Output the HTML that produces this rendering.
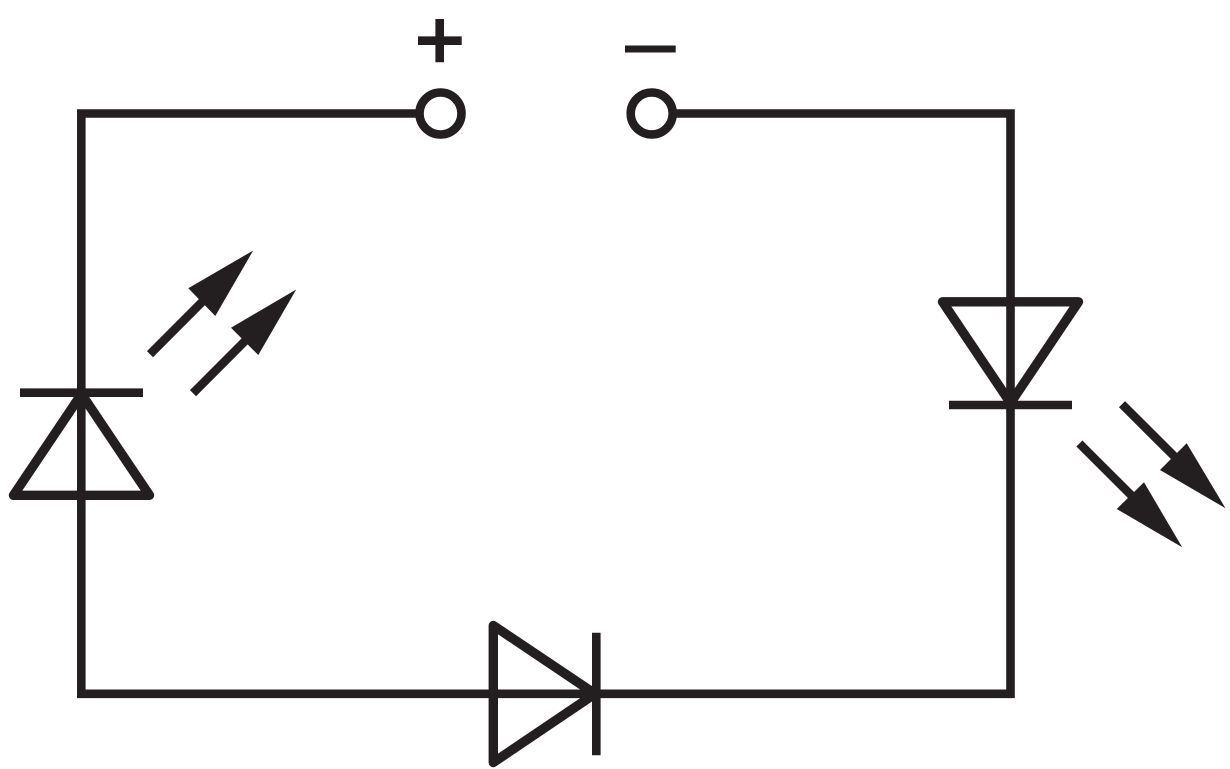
<!DOCTYPE html>
<html>
<head>
<meta charset="utf-8">
<style>
html,body{margin:0;padding:0;background:#fff;width:1230px;height:769px;overflow:hidden}
svg{display:block}
</style>
</head>
<body>
<svg width="1230" height="769" viewBox="0 0 1230 769" xmlns="http://www.w3.org/2000/svg">
<rect width="1230" height="769" fill="#fff"/>
<g fill="none" stroke="#231f20" stroke-width="8.6" stroke-linejoin="miter">
  <path d="M419 113.5H81.3V693.8H1010.5V113.5H673"/>
  <circle cx="440.5" cy="113.5" r="21"/>
  <circle cx="651.7" cy="113.5" r="21"/>
  <path d="M439.7 19V62.3M418 40.7H461.7"/>
  <path d="M625 49H675.7" stroke-width="7"/>
  <path d="M20 392.7H143"/>
  <path d="M81.5 394L13.5 495.3H149.5Z" stroke-linejoin="round" stroke-width="9.4"/>
  <path d="M949 405H1072"/>
  <path d="M942.5 301.8H1078.5L1010.5 403Z" stroke-linejoin="round" stroke-width="9.4"/>
  <path d="M596.3 632.7V755.3"/>
  <path d="M493.3 625.5V762.5L595 693.8Z" stroke-linejoin="round" stroke-width="9.4"/>
  <path d="M150 354.2L205 299M193 393.2L248 338M1122 404.2L1177 459M1079.4 443.5L1134 498" stroke-width="8.6"/>
</g>
<g fill="#231f20">
  <polygon points="253.2,250.5 188.3,288.3 215.3,316"/>
  <polygon points="296.2,289.5 231,327.7 258.3,355"/>
  <polygon points="1225.5,508.2 1186.7,443.3 1160,470"/>
  <polygon points="1182.2,547.2 1144,482.3 1116.7,509"/>
</g>
</svg>
</body>
</html>
